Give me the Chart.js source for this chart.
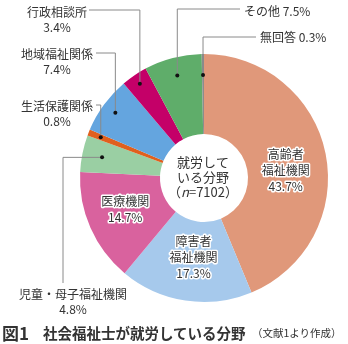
<!DOCTYPE html>
<html lang="ja">
<head>
<meta charset="utf-8">
<script src="https://cdn.jsdelivr.net/npm/chart.js@4"></script>
<style>
  body { margin: 0; background: #fff; }
  #wrap { position: relative; width: 348px; height: 344px; }
  .caption { position: absolute; top: 322px; font-family: "Noto Sans CJK JP", sans-serif; color: #333; white-space: nowrap; line-height: 22px; }
  .fig { left: 2px; font-size: 17px; font-weight: bold; }
  .title { left: 43px; font-size: 14.5px; font-weight: bold; }
  .note { left: 252px; font-size: 10.5px; }
</style>
</head>
<body>
<div id="wrap">
  <canvas id="fieldChart" width="348" height="344"></canvas>
  <span class="caption fig">図1</span>
  <span class="caption title">社会福祉士が就労している分野</span>
  <span class="caption note">（文献1より作成）</span>
</div>
<script>
// 就労分野の構成比（%）
const categories = [
  "高齢者福祉機関",
  "障害者福祉機関",
  "医療機関",
  "児童・母子福祉機関",
  "生活保護関係",
  "地域福祉関係",
  "行政相談所",
  "その他",
  "無回答",
];
const shares = [43.7, 17.3, 14.7, 4.8, 0.8, 7.4, 3.4, 7.5, 0.3];
const sliceColors = [
  "#e0987a",
  "#a6c9ec",
  "#d9629e",
  "#9acfa3",
  "#e0601e",
  "#64a5df",
  "#c40068",
  "#5fad6a",
  "#8c8c8c",
];
const centerLines = ["就労して", "いる分野"];
const sampleSize = 7102;

const FONT = '"Noto Sans CJK JP", sans-serif';
const TEXT = "#333";
const pct = (i) => shares[i].toFixed(1) + "%";

// 扇形の中に書くラベル（半径と角度の微調整つき）
const innerLabels = [
  { i: 0, lines: ["高齢者", "福祉機関"], r: 82, da: 0.11 },
  { i: 1, lines: ["障害者", "福祉機関"], r: 80, da: -0.02 },
  { i: 2, lines: ["医療機関"], r: 85, da: 0.03 },
];

// 外側ラベル: 点から引出線を折り曲げて文字へ
// up = 縦に上がってから横へ、side = 横へ出てから縦に下がる
const outerLabels = [
  { i: 6, r: 114, mode: "up", bendY: 10, endX: 89, text: ["行政相談所"], tx: 57, ty: 12, pctLine: true },
  { i: 5, r: 110, mode: "up", bendY: 53, endX: 96, text: ["地域福祉関係"], tx: 57, ty: 54, pctLine: true },
  { i: 4, r: 111, mode: "up", bendY: 105, endX: 96, text: ["生活保護関係"], tx: 57, ty: 106, pctLine: true },
  { i: 7, r: 106, mode: "up", bendY: 9, endX: 240, text: ["その他 "], tx: 244, ty: 11, align: "left" },
  { i: 8, r: 103, mode: "up", bendY: 37, endX: 256, text: ["無回答 "], tx: 260, ty: 37, align: "left" },
  { i: 3, r: 104, mode: "side", bendX: 63, endY: 283, text: ["児童・母子福祉機関"], tx: 73, ty: 294, pctLine: true },
];

const arcPoint = (arc, r, da = 0) => {
  const p = arc.getProps(["x", "y", "startAngle", "endAngle"], true);
  const a = (p.startAngle + p.endAngle) / 2 + da;
  return { x: p.x + Math.cos(a) * r, y: p.y + Math.sin(a) * r };
};

const haloText = (ctx, s, x, y) => {
  ctx.lineWidth = 3;
  ctx.strokeStyle = "#fff";
  ctx.lineJoin = "round";
  ctx.strokeText(s, x, y);
  ctx.fillStyle = TEXT;
  ctx.fillText(s, x, y);
};

const labelPlugin = {
  id: "fieldLabels",
  afterDatasetsDraw(chart) {
    const ctx = chart.ctx;
    const meta = chart.getDatasetMeta(0);
    ctx.save();
    ctx.textBaseline = "middle";
    ctx.font = "12px " + FONT;

    // 扇形内ラベル
    ctx.textAlign = "center";
    innerLabels.forEach((lab) => {
      const c = arcPoint(meta.data[lab.i], lab.r, lab.da);
      const lines = lab.lines.concat(pct(lab.i));
      const top = c.y - ((lines.length - 1) * 16) / 2;
      lines.forEach((s, k) => haloText(ctx, s, c.x, top + k * 16));
    });

    // 引出線と外側ラベル
    outerLabels.forEach((lab) => {
      const d = arcPoint(meta.data[lab.i], lab.r);
      ctx.strokeStyle = "#8a8a8a";
      ctx.lineWidth = 1;
      ctx.beginPath();
      ctx.moveTo(d.x, d.y);
      if (lab.mode === "up") {
        ctx.lineTo(d.x, lab.bendY);
        ctx.lineTo(lab.endX, lab.bendY);
      } else {
        ctx.lineTo(lab.bendX, d.y);
        ctx.lineTo(lab.bendX, lab.endY);
      }
      ctx.stroke();
      ctx.fillStyle = "#111";
      ctx.beginPath();
      ctx.arc(d.x, d.y, 2, 0, Math.PI * 2);
      ctx.fill();

      ctx.fillStyle = TEXT;
      if (lab.align === "left") {
        ctx.textAlign = "left";
        ctx.fillText(lab.text[0] + pct(lab.i), lab.tx, lab.ty);
      } else {
        ctx.textAlign = "center";
        ctx.fillText(lab.text[0], lab.tx, lab.ty);
        ctx.fillText(pct(lab.i), lab.tx, lab.ty + 15);
      }
    });

    // 中央の文字
    const ca = meta.data[0];
    const cx = ca.x;
    const cy = ca.y;
    ctx.font = "13px " + FONT;
    ctx.textAlign = "center";
    ctx.fillStyle = TEXT;
    ctx.fillText(centerLines[0], cx - 1, cy - 16);
    ctx.fillText(centerLines[1], cx - 1, cy - 1);
    const left = "（";
    const nn = "n";
    const rest = "=" + sampleSize + "）";
    ctx.font = "13px " + FONT;
    const wL = ctx.measureText(left).width;
    const wR = ctx.measureText(rest).width;
    ctx.font = "italic 13px " + FONT;
    const wN = ctx.measureText(nn).width;
    let x0 = cx - 1 - (wL + wN + wR) / 2;
    ctx.textAlign = "left";
    ctx.font = "13px " + FONT;
    ctx.fillText(left, x0, cy + 14);
    ctx.font = "italic 13px " + FONT;
    ctx.fillText(nn, x0 + wL, cy + 14);
    ctx.font = "13px " + FONT;
    ctx.fillText(rest, x0 + wL + wN, cy + 14);
    ctx.restore();
  },
};

new Chart(document.getElementById("fieldChart"), {
  type: "doughnut",
  data: {
    labels: categories,
    datasets: [
      {
        data: shares,
        backgroundColor: sliceColors,
        borderWidth: 0,
      },
    ],
  },
  options: {
    responsive: false,
    animation: false,
    cutout: "35.5%",
    layout: { padding: { left: 80, right: 20, top: 54, bottom: 42 } },
    plugins: { legend: { display: false }, tooltip: { enabled: false } },
  },
  plugins: [labelPlugin],
});
</script>
</body>
</html>
